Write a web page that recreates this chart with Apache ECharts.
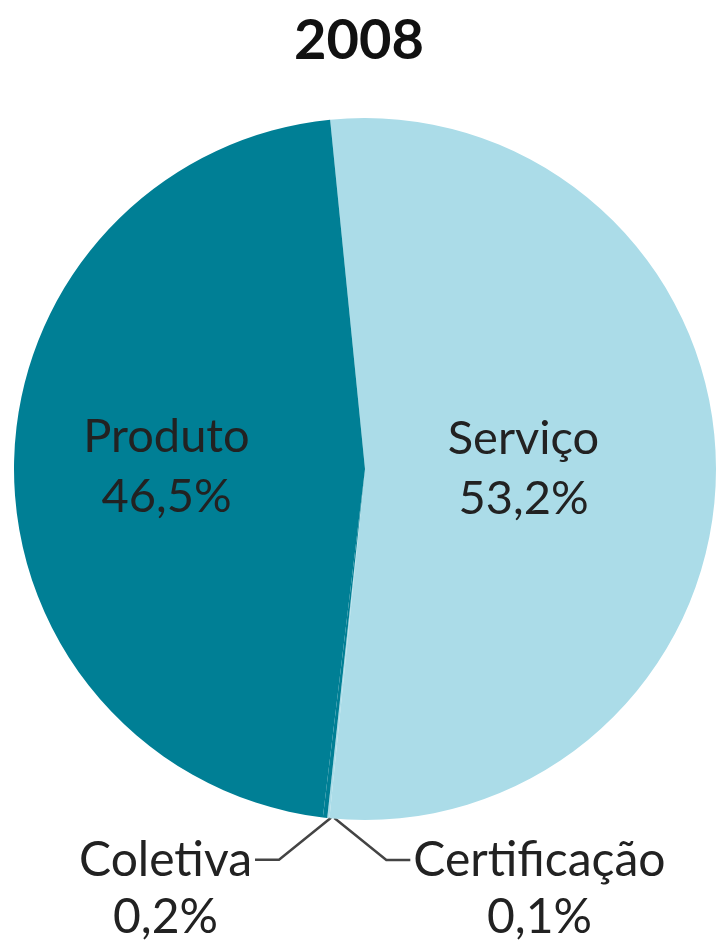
<!DOCTYPE html>
<html>
<head>
<meta charset="utf-8">
<script src="https://cdn.jsdelivr.net/npm/echarts@6/dist/echarts.min.js"></script>
<style>
  html, body { margin: 0; padding: 0; background: #fff; }
  #chart { width: 718px; height: 944px; }
</style>
</head>
<body>
<div id="chart"></div>
<script>
// dados do gráfico (clockwise a partir do topo)
const categories = ['Serviço', 'Certificação', 'Coletiva', 'Produto'];
const values = [53.2, 0.1, 0.2, 46.5];
const colors = ['#abdce8', '#abdce8', '#007f95', '#007f95'];
const titleText = '2008';

const chart = echarts.init(document.getElementById('chart'));

function fmt(v) {
  return String(v).replace('.', ',') + '%';
}

const smallIdx = [1, 2];

const seriesData = categories.map((name, i) => {
  const item = { name: name, value: values[i], itemStyle: { color: colors[i] } };
  if (smallIdx.indexOf(i) >= 0) {
    item.label = {
      position: 'outside',
      formatter: (p) => '{n|' + p.name + '}\n{v|' + fmt(p.value) + '}',
      rich: {
        n: { fontSize: 48, lineHeight: 57, align: 'center', color: '#222', fontFamily: 'Lato' },
        v: { fontSize: 48, lineHeight: 57, align: 'center', color: '#222', fontFamily: 'Lato' },
      },
    };
    item.labelLine = { show: true, lineStyle: { color: '#444', width: 2.5 } };
  } else {
    item.label = {
      position: 'inner',
      formatter: (p) => p.name + '\n' + fmt(p.value),
    };
    item.labelLine = { show: false };
  }
  return item;
});

const option = {
  backgroundColor: '#fff',
  animation: false,
  title: {
    text: titleText,
    left: 'center',
    top: 8,
    textStyle: { fontSize: 56, fontWeight: 'bold', color: '#111', fontFamily: 'Lato' },
  },
  series: [
    {
      type: 'pie',
      center: [365, 469],
      radius: 351,
      startAngle: 95.7,
      clockwise: true,
      avoidLabelOverlap: false,
      data: seriesData,
      label: {
        color: '#222',
        fontSize: 47,
        lineHeight: 60,
        fontFamily: 'Lato',
      },
      // rótulos pequenos: um para cada lado, como no original
      labelLayout: function (p) {
        if (smallIdx.indexOf(p.dataIndex) < 0 || !p.labelLinePoints) {
          return { dx: -20 };
        }
        const a = p.labelLinePoints[0];
        const dir = p.dataIndex === 1 ? 1 : -1;
        const ax = a[0] + 6;
        const kx = ax + dir * 52;
        const ky = a[1] + 42;
        const ex = kx + dir * 24;
        return {
          x: ex + dir * 3,
          y: ky - 28,
          align: dir > 0 ? 'left' : 'right',
          verticalAlign: 'top',
          labelLinePoints: [[ax, a[1]], [kx, ky], [ex, ky]],
        };
      },
    },
  ],
};
chart.setOption(option);
</script>
</body>
</html>
